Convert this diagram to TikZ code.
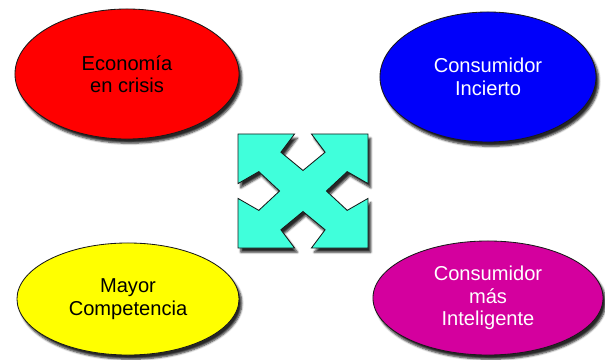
\documentclass[tikz,border=0pt]{standalone}
\usepackage{fontspec}
\setmainfont{Liberation Sans}
\usetikzlibrary{shapes, shadows, shadows.blur, positioning}
\definecolor{crisisred}{rgb}{1, 0, 0}
\definecolor{dudablue}{rgb}{0, 0, 0.98}
\definecolor{mayoryellow}{rgb}{1, 1, 0}
\definecolor{listomagenta}{rgb}{0.83, 0, 0.62}
\definecolor{cruzcyan}{rgb}{0.25, 1, 0.86}

\begin{document}
\begin{tikzpicture}[x=0.025cm, y=-0.025cm]
    \useasboundingbox (0,0) rectangle (605,360);
    \tikzset{
        sombra/.style = {blur shadow={shadow xshift=2pt, shadow yshift=-3pt,
            shadow blur steps=5, shadow blur radius=1.5pt, shadow opacity=85}},
        globo/.style = {ellipse, draw=black!90, line width=0.6pt, align=center,
            font=\fontsize{14.3}{16}\selectfont, sombra},
    }
    \begin{scope}
        \node[globo, fill=crisisred, minimum width=5.6cm, minimum height=3.25cm] (crisis) at (127,74) {Econom\'ia\\en crisis};
        \node[globo, fill=dudablue, text=white, minimum width=5.4cm, minimum height=3.25cm] (incierto) at (488,77) {Consumidor\\Incierto};
        \node[globo, fill=mayoryellow, minimum width=5.55cm, minimum height=2.8cm] (competencia) at (128,299) {Mayor\\Competencia};
        \node[globo, fill=listomagenta, text=white, minimum width=5.75cm, minimum height=2.85cm] (inteligente) at (488,298) {Consumidor\\m\'as\\Inteligente};
    \end{scope}
    % cruz de cuatro flechas
    \begin{scope}[shift={(303,191)}, xscale=65, yscale=-57]
        \draw[fill=cruzcyan, draw=black!90, line width=0.6pt, sombra]
            (-1,1) -- (-0.13,1) -- (-0.34,0.68) -- (0,0.36) -- (0.34,0.68) -- (0.13,1)
            -- (1,1) -- (1,0.13) -- (0.68,0.34) -- (0.36,0) -- (0.68,-0.34) -- (1,-0.13)
            -- (1,-1) -- (0.13,-1) -- (0.34,-0.68) -- (0,-0.36) -- (-0.34,-0.68) -- (-0.13,-1)
            -- (-1,-1) -- (-1,-0.13) -- (-0.68,-0.34) -- (-0.36,0) -- (-0.68,0.34) -- (-1,0.13)
            -- cycle;
    \end{scope}
\end{tikzpicture}
\end{document}
